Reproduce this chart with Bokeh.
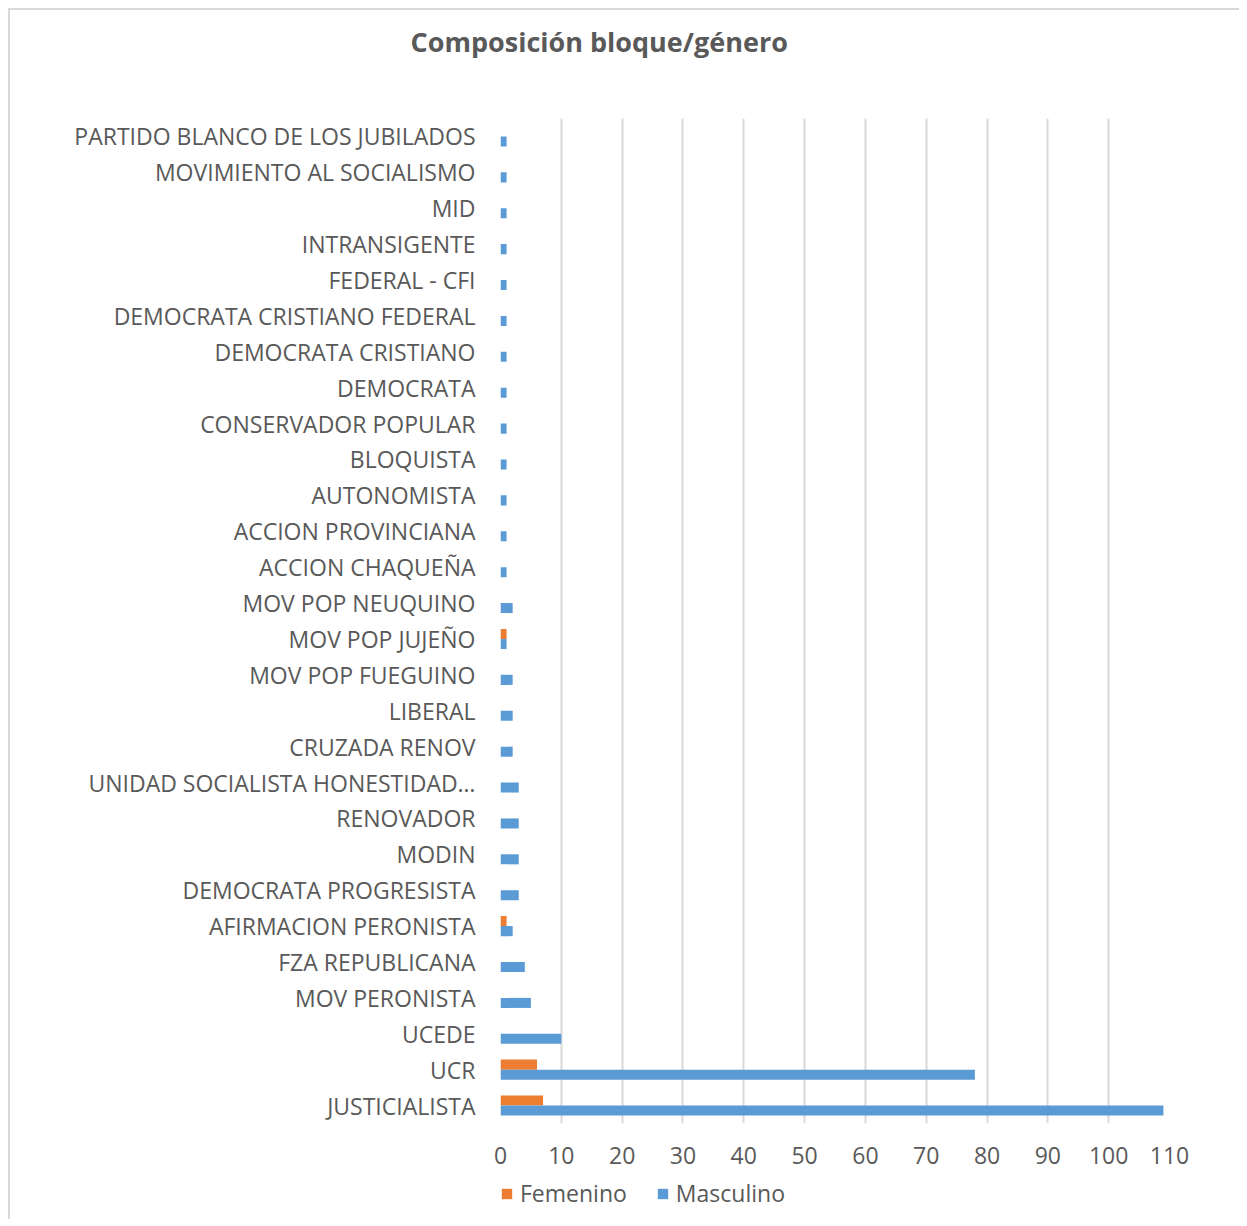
from bokeh.plotting import figure
from bokeh.layouts import column
from bokeh.models import ColumnDataSource, FactorRange, FixedTicker, Legend, LegendItem
from bokeh.transform import dodge
from bokeh.embed import file_html
from bokeh.resources import INLINE

# Data (bottom to top)
categories = [
    "JUSTICIALISTA", "UCR", "UCEDE", "MOV PERONISTA", "FZA REPUBLICANA",
    "AFIRMACION PERONISTA", "DEMOCRATA PROGRESISTA", "MODIN", "RENOVADOR",
    "UNIDAD SOCIALISTA HONESTIDAD…", "CRUZADA RENOV", "LIBERAL", "MOV POP FUEGUINO",
    "MOV POP JUJEÑO", "MOV POP NEUQUINO", "ACCION CHAQUEÑA", "ACCION PROVINCIANA",
    "AUTONOMISTA", "BLOQUISTA", "CONSERVADOR POPULAR", "DEMOCRATA",
    "DEMOCRATA CRISTIANO", "DEMOCRATA CRISTIANO FEDERAL", "FEDERAL - CFI",
    "INTRANSIGENTE", "MID", "MOVIMIENTO AL SOCIALISMO", "PARTIDO BLANCO DE LOS JUBILADOS",
]
femenino = [7, 6, 0, 0, 0, 1, 0, 0, 0, 0, 0, 0, 0, 1, 0, 0, 0, 0, 0, 0, 0, 0, 0, 0, 0, 0, 0, 0]
masculino = [109, 78, 10, 5, 4, 2, 3, 3, 3, 3, 2, 2, 2, 1, 2, 1, 1, 1, 1, 1, 1, 1, 1, 1, 1, 1, 1, 1]
x_ticks = [0, 10, 20, 30, 40, 50, 60, 70, 80, 90, 100, 110]
title_text = "Composición bloque/género"
series_names = ["Femenino", "Masculino"]
colors = ["#ED7D31", "#5B9BD5"]

FONT = "Open Sans"
GREY = "#595959"

src = ColumnDataSource(dict(cat=categories, fem=femenino, masc=masculino))

p = figure(
    frame_width=669, frame_height=1005,
    y_range=FactorRange(*categories), x_range=(0, 110),
    output_backend="svg", toolbar_location=None,
    min_border_left=490, min_border_right=70, min_border_top=108, min_border_bottom=54,
    title=title_text + "\n\n",
)
p.outline_line_color = None
p.background_fill_color = "white"
p.border_fill_color = "white"

p.title.align = "left"
p.title.vertical_align = "top"
p.title.offset = -90
p.title.standoff = -20
p.title.text_line_height = 0.9
p.title.text_font = FONT
p.title.text_font_size = "27px"
p.title.text_font_style = "bold"
p.title.text_color = GREY

p.hbar(y=dodge("cat", 0.14, range=p.y_range), right="fem", left=0, height=0.28,
       source=src, fill_color=colors[0], line_color=None)
p.hbar(y=dodge("cat", -0.14, range=p.y_range), right="masc", left=0, height=0.28,
       source=src, fill_color=colors[1], line_color=None)

p.xaxis.ticker = FixedTicker(ticks=x_ticks)
p.xgrid.ticker = FixedTicker(ticks=x_ticks)
p.xgrid.grid_line_color = "#d9d9d9"
p.xgrid.grid_line_width = 2
p.ygrid.grid_line_color = None

for ax in (p.xaxis, p.yaxis):
    ax.axis_line_color = None
    ax.major_tick_line_color = None
    ax.minor_tick_line_color = None
    ax.major_tick_in = 0
    ax.major_tick_out = 0
    ax.major_label_text_font = FONT
    ax.major_label_text_font_size = "23px"
    ax.major_label_text_color = GREY
p.yaxis.major_label_standoff = 25
p.xaxis.major_label_standoff = 23

# Legend strip below the chart (proxy glyphs lie outside the visible range)
lg = figure(width=1229, height=42, x_range=(0, 1), y_range=(0, 1),
            x_axis_type=None, y_axis_type=None, output_backend="svg",
            toolbar_location=None, min_border=0)
lg.outline_line_color = None
lg.grid.grid_line_color = None
lf = lg.hbar(y=[-5], right=[-5], left=-6, height=0.5, fill_color=colors[0], line_color=None)
lm = lg.hbar(y=[-5], right=[-5], left=-6, height=0.5, fill_color=colors[1], line_color=None)

legend = Legend(items=[LegendItem(label=series_names[0], renderers=[lf], index=0),
                       LegendItem(label=series_names[1], renderers=[lm], index=0)],
                orientation="horizontal", location=(0, 8))
legend.label_text_font = FONT
legend.label_text_font_size = "23px"
legend.label_text_color = GREY
legend.glyph_width = 13
legend.glyph_height = 13
legend.label_height = 36
legend.label_standoff = 7
legend.spacing = 29
legend.padding = 0
legend.margin = 0
legend.border_line_color = None
legend.background_fill_alpha = 0
lg.add_layout(legend, "center")

layout = column(p, lg, spacing=0,
                styles={"border-top": "2px solid #d9d9d9", "border-left": "2px solid #d9d9d9",
                        "margin-top": "8px", "margin-left": "8px"})

open("out.html", "w").write(file_html(layout, INLINE))
